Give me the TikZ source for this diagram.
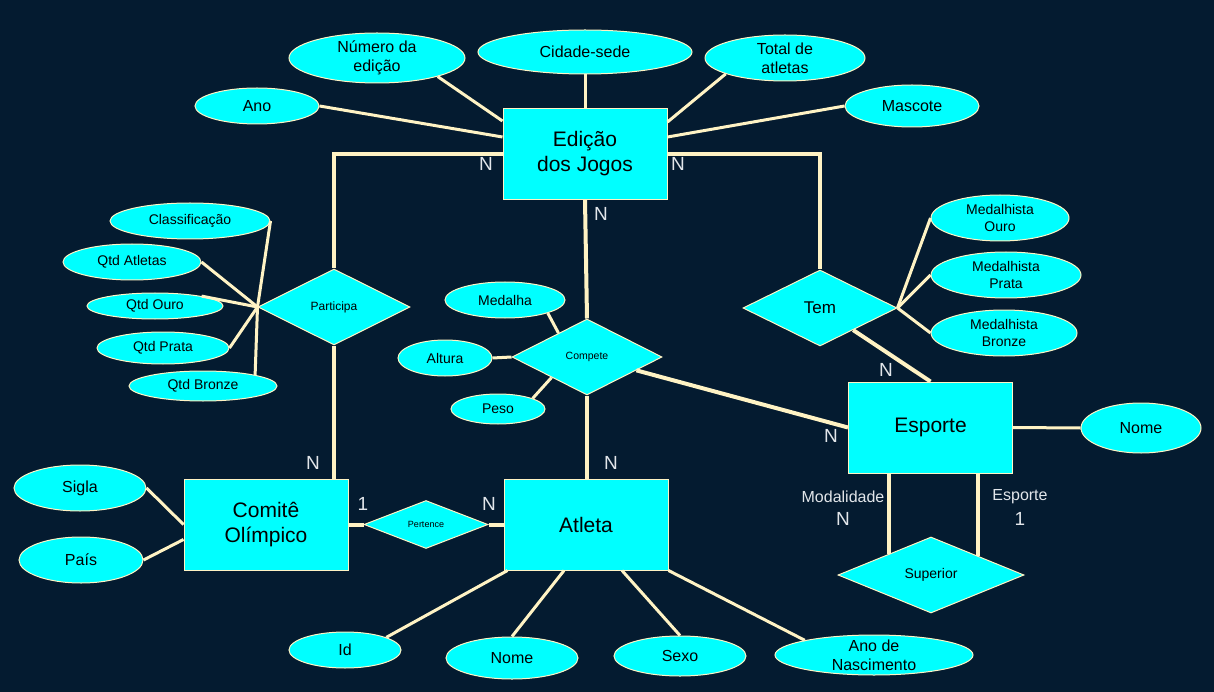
\documentclass[tikz,border=0pt]{standalone}
\usepackage{fontspec}
\setmainfont{Liberation Sans}
\usetikzlibrary{shapes.geometric}

\definecolor{fundo}{HTML}{041B30}
\definecolor{ciano}{HTML}{00FFFF}
\definecolor{creme}{HTML}{FFF3C4}
\definecolor{rotulo}{HTML}{E2E6EA}
\newcommand{\tam}[2]{\fontsize{#1}{#2}\selectfont}

\tikzset{
    entBox/.style={rectangle,draw=creme,line width=1pt,fill=ciano,text=black,
        minimum width=164pt,minimum height=91pt,inner sep=0pt,align=center,font=\tam{21}{25}},
    attrEll/.style={ellipse,draw=creme,line width=1pt,fill=ciano,text=black,
        inner sep=-6pt,align=center},
    relDia/.style={diamond,draw=creme,line width=1pt,fill=ciano,text=black,
        inner sep=0pt,aspect=2},
    dims/.style 2 args={minimum width=#1pt,minimum height=#2pt},
    relLine/.style={draw=creme,line width=4pt},
    attrLine/.style={draw=creme,line width=3pt},
    cardLbl/.style={text=rotulo,inner sep=0pt,font=\tam{19}{21}},
}

\begin{document}
\begin{tikzpicture}[x=1pt,y=-1pt]

\fill[fundo] (0,0) rectangle (1214,692);

\node[entBox] (edicao) at (585,154) {Edição\\dos Jogos};
\node[entBox] (esporte) at (930.5,427.5) {Esporte};
\node[entBox] (comite) at (266,524.5) {Comitê\\Olímpico};
\node[entBox] (atleta) at (586,524.5) {Atleta};

\node[relDia,dims={152}{76},font=\tam{12}{14}] (participa) at (334,307) {Participa};
\node[relDia,dims={150}{76},font=\tam{10.5}{12}] (compete) at (587,357) {Compete};
\node[relDia,dims={154}{76},font=\tam{17}{20}] (tem) at (820,308) {Tem};
\node[relDia,dims={186}{76},font=\tam{14}{16}] (superior) at (931,575) {Superior};
\node[relDia,dims={124}{48},font=\tam{9}{10}] (pertence) at (426,524.5) {Pertence};

\foreach \nome/\px/\py/\lw/\lh/\txt in
{numero/377/58/176/50/{Número da\\edição},
    cidade/585/52/214/44/{Cidade-sede},
    total/785/58/160/46/{Total de\\atletas},
    ano/257/106/124/36/{Ano},
    mascote/912/106/134/42/{Mascote},
    nomeEsp/1141/428/120/50/{Nome},
    sigla/80/488/132/46/{Sigla},
    pais/81/560/124/46/{País},
    idAtl/345/650/112/36/{Id},
    nomeAtl/512/658/132/42/{Nome},
    sexo/680/656/132/40/{Sexo},
    nasc/874/655/198/40/{Ano de\\Nascimento}}
{
    \node[attrEll,dims={\lw}{\lh},font=\tam{16}{19}] (\nome) at (\px,\py) {\txt};
};

\foreach \nome/\px/\py/\lw/\lh/\txt in
{classif/190/221/160/36/{Classificação},
    qtdAtl/132/262/138/36/{Qtd Atletas},
    qtdOuro/155/306/136/26/{Qtd Ouro},
    qtdPrata/163/348/132/32/{Qtd Prata},
    qtdBronze/203/386/148/30/{Qtd Bronze},
    medalha/505/300/120/36/{Medalha},
    altura/445/358/94/36/{Altura},
    peso/498/409/94/30/{Peso},
    medOuro/1000/218/138/46/{Medalhista\\Ouro},
    medPrata/1006/275/150/46/{Medalhista\\Prata},
    medBronze/1004/333/146/46/{Medalhista\\Bronze}}
{
    \node[attrEll,dims={\lw}{\lh},font=\tam{14}{17}] (\nome) at (\px,\py) {\txt};
};

\draw[attrLine] (ano.east) -- ([yshift=17pt]edicao.west);
\draw[attrLine] (numero.-17) -- ([yshift=-13pt]edicao.north west);
\draw[attrLine] (cidade.south) -- (edicao.north);
\draw[attrLine] (total.195) -- ([yshift=-14pt]edicao.north east);
\draw[attrLine] (mascote.west) -- ([yshift=17pt]edicao.east);

\draw[relLine] (edicao.west) -| (participa.north);
\draw[relLine] (edicao.east) -| (tem.north);
\draw[relLine] (edicao.south) -- (compete.north);
\draw[relLine] (participa.south) -- (participa.south |- comite.north);
\draw[relLine] (compete.south) -- (compete.south |- atleta.north);
\draw[relLine] (compete) -- (esporte.west);
\draw[relLine] (tem) -- (esporte.north);
\draw[relLine] (comite.east) -- (pertence.west);
\draw[relLine] (pertence.east) -- (atleta.west);
\draw[relLine] (superior.153) -- (superior.153 |- esporte.south);
\draw[relLine] (superior.22) -- (superior.22 |- esporte.south);

\foreach \a in {classif.east,qtdAtl.east,qtdOuro.12,qtdPrata.east,qtdBronze.12}
{
    \draw[attrLine] (\a) -- (participa.west);
};
\foreach \a in {medOuro,medPrata,medBronze}
{
    \draw[attrLine] (tem.east) -- (\a.west);
};
\draw[attrLine] (medalha.-17) -- (compete.140);
\draw[attrLine] (altura.east) -- (compete.west);
\draw[attrLine] (peso.17) -- (compete.210);
\draw[attrLine] (esporte.east) -- (nomeEsp.west);
\draw[attrLine] (sigla.east) -- (comite.west);
\draw[attrLine] (pais.east) -- ([yshift=-15pt]comite.west);
\draw[attrLine] (idAtl.17) -- ([xshift=4pt]atleta.south west);
\draw[attrLine] (nomeAtl.north) -- ([xshift=-22pt]atleta.south);
\draw[attrLine] (sexo.north) -- ([xshift=36pt]atleta.south);
\draw[attrLine] (nasc.168) -- (atleta.south east);

\foreach \lx/\ly/\lt [count=\i] in
{486/164/N, 678/164/N, 601/214/N, 313/463/N, 611/463/N, 831/436/N,
    886/370/N, 363/504/1, 489/504/N, 843/519/N, 1020/519/1}
{
    \node[cardLbl] (card\i) at (\lx,\ly) {\lt};
};
\node[cardLbl,font=\tam{16}{18}] (papelMod) at (843,497) {Modalidade};
\node[cardLbl,font=\tam{16}{18}] (papelEsp) at (1020,497) {Esporte};

\end{tikzpicture}
\end{document}
